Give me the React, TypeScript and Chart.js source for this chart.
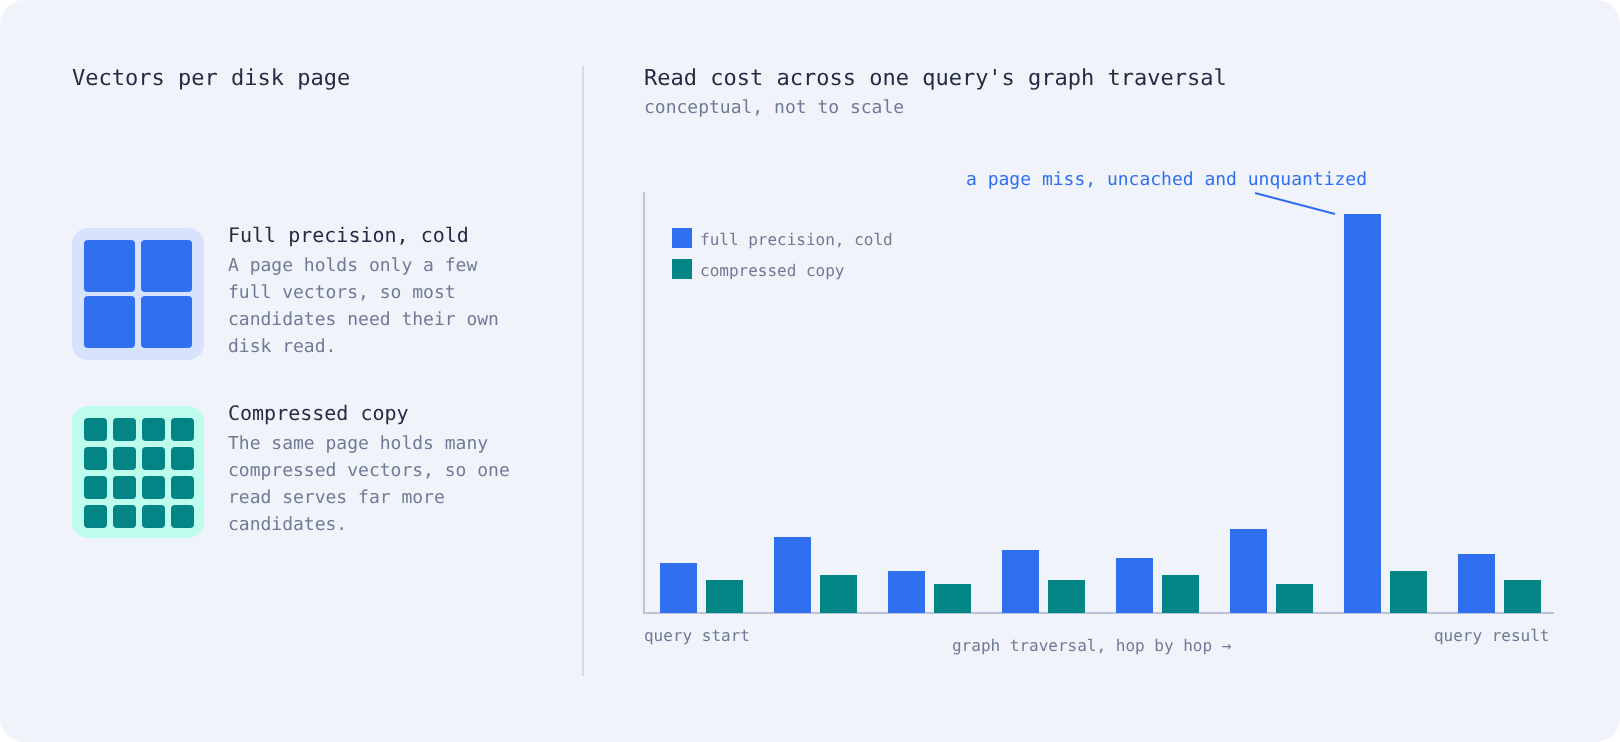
import React, { useEffect, useRef } from "react";
import { Chart, registerables } from "chart.js";

Chart.register(...registerables);

const hops = ["hop 1", "hop 2", "hop 3", "hop 4", "hop 5", "hop 6", "hop 7", "hop 8"];
const fullPrecision = [50, 76, 42, 63, 55, 84, 399, 59];
const compressedCopy = [33, 38, 29, 33, 38, 29, 42, 33];
const seriesNames = ["full precision, cold", "compressed copy"];
const endLabels = ["query start", "query result"];
const axisCaption = "graph traversal, hop by hop →";
const missNote = "a page miss, uncached and unquantized";
const yMax = 421;
const missHop = 6;

const BLUE = "#2f6ff0";
const TEAL = "#038585";
const INK = "#232c44";
const MUTED = "#6f7a96";
const AXIS = "#bcc3d8";
const BG = "#f0f3fa";
const FONT = '"DejaVu Sans Mono", monospace';

const chartText = {
  id: "chartText",
  afterLayout(chart: any) {
    const area = chart.chartArea;
    // axis rules stop slightly short of the plot box
    chart.scales.x.right = area.right - 2.5;
    chart.scales.y.top = area.top + 1;
  },
  afterDraw(chart: any) {
    const { ctx, scales, chartArea } = chart;
    const y = scales.y;
    const left = chartArea.left;
    const right = chartArea.right;
    ctx.save();
    ctx.textRendering = "geometricPrecision";
    ctx.textBaseline = "middle";

    // legend built from the datasets, inside the plot
    ctx.font = `16px ${FONT}`;
    ctx.textAlign = "left";
    chart.data.datasets.forEach((ds: any, i: number) => {
      const top = Math.round(chartArea.top) + 36 + i * 31;
      ctx.fillStyle = ds.backgroundColor;
      ctx.fillRect(Math.round(left) + 28, top, 20, 20);
      ctx.fillStyle = MUTED;
      ctx.fillText(ds.label, Math.round(left) + 56, top + 12.5);
    });

    ctx.fillStyle = MUTED;
    ctx.textAlign = "left";
    ctx.fillText(endLabels[0], left - 0.5, y.bottom + 24);
    ctx.textAlign = "right";
    ctx.fillText(endLabels[1], right - 7, y.bottom + 24);
    ctx.textAlign = "left";
    ctx.fillText(axisCaption, left + 307.5, y.bottom + 34);

    const bar = chart.getDatasetMeta(0).data[missHop];
    const endX = bar.x - bar.width / 2 - 9;
    const endY = bar.y;
    ctx.strokeStyle = BLUE;
    ctx.lineWidth = 2;
    ctx.beginPath();
    ctx.moveTo(endX - 80, endY - 21);
    ctx.lineTo(endX, endY);
    ctx.stroke();

    ctx.font = `18px ${FONT}`;
    ctx.fillStyle = BLUE;
    ctx.textAlign = "right";
    ctx.fillText(missNote, bar.x + bar.width / 2 - 14, endY - 34);
    ctx.restore();
  },
};

const textBase: React.CSSProperties = {
  position: "absolute",
  fontFamily: FONT,
  whiteSpace: "pre",
  margin: 0,
  textRendering: "geometricPrecision",
  willChange: "transform",
};

function Text(props: { x: number; y: number; size: number; color: string; lh?: number; children: React.ReactNode }) {
  const lh = props.lh ?? Math.round(props.size * 1.3);
  return (
    <div style={{ ...textBase, left: props.x, top: props.y, fontSize: props.size, color: props.color, lineHeight: `${lh}px` }}>
      {props.children}
    </div>
  );
}

function Cells(props: { xs: number[]; ys: number[]; w: number; h: number; r: number; color: string }) {
  return (
    <>
      {props.ys.flatMap((cy) =>
        props.xs.map((cx) => (
          <div
            key={`${cx}-${cy}`}
            style={{ position: "absolute", left: cx, top: cy, width: props.w, height: props.h, borderRadius: props.r, background: props.color }}
          />
        ))
      )}
    </>
  );
}

export default function App() {
  const ref = useRef<HTMLCanvasElement>(null);
  useEffect(() => {
    const chart = new Chart(ref.current!, {
      type: "bar",
      data: {
        labels: hops,
        datasets: [
          { label: seriesNames[0], data: fullPrecision, backgroundColor: BLUE, borderWidth: 0 },
          { label: seriesNames[1], data: compressedCopy, backgroundColor: TEAL, borderWidth: 0 },
        ],
      },
      options: {
        animation: false,
        responsive: false,
        events: [],
        layout: { padding: { left: 644.49, right: 63.51, top: 192, bottom: 129 } },
        datasets: { bar: { categoryPercentage: 92 / 114, barPercentage: 37 / 46 } },
        scales: {
          x: {
            grid: { display: false, drawTicks: false },
            ticks: { display: false },
            border: { display: true, color: AXIS, width: 2 },
          },
          y: {
            min: 0,
            max: yMax,
            grid: { display: false, drawTicks: false },
            ticks: { display: false },
            border: { display: true, color: AXIS, width: 2 },
          },
        },
        plugins: {
          title: { display: false },
          tooltip: { enabled: false },
          legend: { display: false },
        },
      } as any,
      plugins: [chartText],
    });
    return () => chart.destroy();
  }, []);

  return (
    <div style={{ position: "fixed", left: 0, top: 0, width: 1620, height: 742, background: "#fff", overflow: "hidden" }}>
      <div style={{ position: "absolute", inset: 0, background: BG, borderRadius: 24 }} />
      <Text x={72} y={64} size={22} color={INK}>Vectors per disk page</Text>
      <div style={{ position: "absolute", left: 582, top: 66, width: 2, height: 610, background: "#d5daea" }} />

      <div style={{ position: "absolute", left: 72, top: 228, width: 132, height: 132, borderRadius: 16, background: "#d8e2fd" }} />
      <Cells xs={[84, 141]} ys={[240, 296]} w={51} h={52} r={4} color={BLUE} />
      <Text x={228} y={222} size={20} color={INK}>Full precision, cold</Text>
      <Text x={228} y={252} size={18} color={MUTED} lh={27}>
        {"A page holds only a few\nfull vectors, so most\ncandidates need their own\ndisk read."}
      </Text>

      <div style={{ position: "absolute", left: 72, top: 406, width: 132, height: 132, borderRadius: 16, background: "#befcee" }} />
      <Cells xs={[84, 113, 142, 171]} ys={[418, 447, 476, 505]} w={23} h={23} r={4} color={TEAL} />
      <Text x={228} y={400} size={20} color={INK}>Compressed copy</Text>
      <Text x={228} y={430} size={18} color={MUTED} lh={27}>
        {"The same page holds many\ncompressed vectors, so one\nread serves far more\ncandidates."}
      </Text>

      <Text x={644} y={64} size={22} color={INK}>Read cost across one query's graph traversal</Text>
      <Text x={644} y={96} size={18} color={MUTED}>conceptual, not to scale</Text>

      <canvas ref={ref} width={1620} height={742} style={{ position: "absolute", left: 0, top: 0, width: 1620, height: 742 }} />
    </div>
  );
}
